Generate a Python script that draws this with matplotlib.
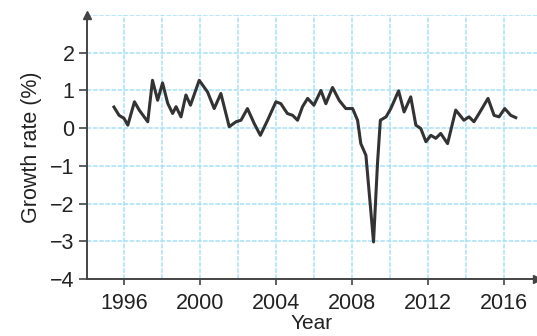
import numpy as np
from matplotlib import pyplot as plt

# quarterly growth rate
years = [1995.47, 1995.74, 1996.0, 1996.2, 1996.55, 1996.8, 1997.25, 1997.5, 1997.77,
         1998.03, 1998.3, 1998.56, 1998.74, 1999.0, 1999.26, 1999.5, 1999.96, 2000.4,
         2000.75, 2001.1, 2001.54, 2001.9, 2002.16, 2002.5, 2002.86, 2003.18, 2003.56,
         2004.0, 2004.26, 2004.6, 2004.88, 2005.14, 2005.4, 2005.67, 2006.0, 2006.37,
         2006.63, 2006.98, 2007.33, 2007.68, 2008.04, 2008.3, 2008.47, 2008.74, 2009.14,
         2009.35, 2009.5, 2009.8, 2010.05, 2010.46, 2010.75, 2011.1, 2011.37, 2011.63,
         2011.9, 2012.16, 2012.42, 2012.68, 2013.04, 2013.47, 2013.9, 2014.17, 2014.43,
         2014.7, 2015.17, 2015.49, 2015.75, 2016.05, 2016.37, 2016.63]
growth = [0.56, 0.34, 0.26, 0.08, 0.70, 0.48, 0.17, 1.27, 0.74,
          1.20, 0.66, 0.39, 0.57, 0.30, 0.88, 0.61, 1.27, 0.96,
          0.52, 0.92, 0.04, 0.17, 0.21, 0.52, 0.12, -0.19, 0.21,
          0.70, 0.65, 0.39, 0.34, 0.21, 0.57, 0.79, 0.61, 1.00,
          0.65, 1.08, 0.74, 0.52, 0.52, 0.21, -0.41, -0.72, -3.02,
          -0.93, 0.21, 0.30, 0.52, 0.99, 0.43, 0.83, 0.08, -0.01,
          -0.36, -0.19, -0.27, -0.14, -0.41, 0.48, 0.21, 0.30, 0.17,
          0.39, 0.79, 0.34, 0.30, 0.52, 0.34, 0.28]

plt.rcParams['font.family'] = ['Liberation Sans', 'DejaVu Sans']

fig = plt.figure(figsize=(5.37, 3.36), dpi=100)
ax = fig.add_axes([0.162, 0.170, 0.838, 0.785])

gridc = '#a8e0f4'
ax.set_xlim(1994.05, 2017.75)
ax.set_ylim(-4, 3)

ax.set_xticks(range(1996, 2017, 4))
ax.set_xticks(range(1998, 2017, 4), minor=True)
ax.set_yticks(range(-4, 3))
ax.set_yticks([3], minor=True)
ax.set_yticklabels(['\u22124', '\u22123', '\u22122', '\u22121', '0', '1', '2'])

ax.grid(which='both', color=gridc, lw=1.1, ls=(0, (3, 1)))
ax.set_axisbelow(True)

ax.plot(years, growth, color='#333333', lw=2.2, solid_joinstyle='round')

for s in ['top', 'right']:
    ax.spines[s].set_visible(False)
for s in ['left', 'bottom']:
    ax.spines[s].set_color('#444444')
    ax.spines[s].set_linewidth(1.4)

# arrow heads on the axes
ax.plot(0, 1, '^', color='#444444', ms=6, transform=ax.transAxes, clip_on=False)
ax.plot(1, 0, '>', color='#444444', ms=6, transform=ax.transAxes, clip_on=False)

ax.tick_params(which='major', axis='y', length=6, width=1.2, color='#444444', pad=3,
               labelsize=15.5, labelcolor='#222222')
ax.tick_params(which='major', axis='x', length=4, width=1.2, color='#444444', pad=6,
               labelsize=15.5, labelcolor='#222222')
ax.tick_params(which='minor', length=0)

ax.set_xlabel('Year', fontsize=15, color='#222222', labelpad=0)
ax.set_ylabel('Growth rate (%)', fontsize=15.5, color='#222222', labelpad=6)

fig.savefig('out.png', dpi=100)
